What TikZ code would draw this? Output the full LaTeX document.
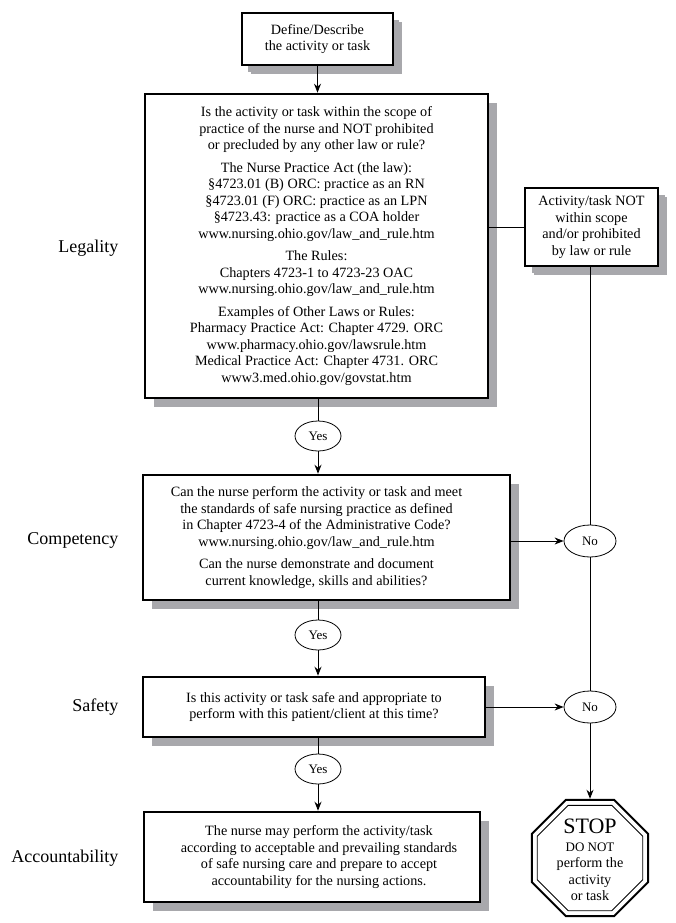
\documentclass[tikz,border=0pt]{standalone}
\usepackage{fontspec}
\setmainfont{Liberation Serif}
\usetikzlibrary{shapes.geometric,shadows,arrows.meta}
\definecolor{shadowgray}{RGB}{168,168,172}
\begin{document}
\begin{tikzpicture}[x=1pt,y=-1pt,
    box/.style={draw,line width=2.6pt,fill=white,align=center,inner sep=0pt,
      font=\fontsize{14.2}{16.5}\selectfont,
      drop shadow={shadow xshift=9pt,shadow yshift=-9pt,fill=shadowgray,opacity=1}},
    boxtext/.style={align=center,inner sep=0pt,font=\fontsize{14.2}{16.5}\selectfont},
    answer/.style={draw,ellipse,line width=0.8pt,inner sep=0pt,minimum width=46pt,
      minimum height=30pt,font=\fontsize{13}{15}\selectfont},
    side/.style={anchor=east,font=\fontsize{18}{20}\selectfont},
    arr/.style={line width=1pt,-{Stealth[length=9pt,width=7pt]}},
    ln/.style={line width=1pt}]
    \useasboundingbox (0,0) rectangle (676,923);

    % left column
    \node[side] (legality) at (122,248) {Legality};
    \node[side] (competency) at (122,540) {Competency};
    \node[side] (safety) at (122,707) {Safety};
    \node[side] (accountability) at (122,858) {Accountability};

    % main column
    \node[box,minimum width=151pt,minimum height=52pt,
      drop shadow={shadow xshift=6pt,shadow yshift=-7pt,fill=shadowgray,opacity=1}]
      (define) at (317.5,39) {Define/Describe\\the activity or task};
    \node[box,minimum width=343pt,minimum height=304pt] (legal) at (316.5,246)
      {Is the activity or task within the scope of\\
       practice of the nurse and NOT prohibited\\
       or precluded by any other law or rule?\\[6pt]
       The Nurse Practice Act (the law):\\
       §4723.01 (B) ORC: practice as an RN\\
       §4723.01 (F) ORC: practice as an LPN\\
       §4723.43: practice as a COA holder\\
       www.nursing.ohio.gov/law\_and\_rule.htm\\[6pt]
       The Rules:\\
       Chapters 4723-1 to 4723-23 OAC\\
       www.nursing.ohio.gov/law\_and\_rule.htm\\[6pt]
       Examples of Other Laws or Rules:\\
       Pharmacy Practice Act: Chapter 4729. ORC\\
       www.pharmacy.ohio.gov/lawsrule.htm\\
       Medical Practice Act: Chapter 4731. ORC\\
       www3.med.ohio.gov/govstat.htm};
    \node[answer] (yes1) at (318,436) {Yes};
    \node[box,minimum width=367pt,minimum height=125pt,
      label={[boxtext,xshift=-10pt]center:Can the nurse perform the activity or task and meet\\
       the standards of safe nursing practice as defined\\
       in Chapter 4723-4 of the Administrative Code?\\
       www.nursing.ohio.gov/law\_and\_rule.htm\\[6pt]
       Can the nurse demonstrate and document\\
       current knowledge, skills and abilities?}] (comp) at (326.5,537.5) {};
    \node[answer] (yes2) at (318,635) {Yes};
    \node[box,minimum width=342pt,minimum height=60pt] (safe) at (314,707)
      {Is this activity or task safe and appropriate to\\
       perform with this patient/client at this time?};
    \node[answer] (yes3) at (318,769) {Yes};
    \node[box,minimum width=336pt,minimum height=90pt,
      label={[boxtext,xshift=7pt]center:The nurse may perform the activity/task\\
       according to acceptable and prevailing standards\\
       of safe nursing care and prepare to accept\\
       accountability for the nursing actions.}] (acct) at (312,857) {};

    % right column
    \node[box,minimum width=133pt,minimum height=78pt,
      drop shadow={shadow xshift=7pt,shadow yshift=-7pt,fill=shadowgray,opacity=1}]
      (notin) at (591.5,227)
      {Activity/task NOT\\within scope\\and/or prohibited\\by law or rule};
    \node[answer,minimum width=52pt,minimum height=32pt] (no1) at (590,541) {No};
    \node[answer,minimum width=52pt,minimum height=32pt] (no2) at (590,707) {No};
    \node[draw,regular polygon,regular polygon sides=8,minimum size=126pt,
      line width=2pt,inner sep=0pt,fill=white] (stop) at (590,858) {};
    \node[draw,regular polygon,regular polygon sides=8,minimum size=114pt,
      line width=0.8pt,inner sep=0pt] (stopin) at (stop) {};
    \node[align=center,inner sep=0pt,font=\fontsize{14.2}{16.5}\selectfont] (stoptext) at (590,860)
      {{\fontsize{22}{22}\selectfont STOP}\\[1pt]{\fontsize{13}{15}\selectfont DO NOT}\\
       perform the\\activity\\or task};

    % connectors
    \draw[arr] (define.south) -- (define.south |- legal.north);
    \draw[ln] (legal.south -| yes1) -- (yes1);
    \draw[arr] (yes1) -- (yes1 |- comp.north);
    \draw[ln] (comp.south -| yes2) -- (yes2);
    \draw[arr] (yes2) -- (yes2 |- safe.north);
    \draw[ln] (safe.south -| yes3) -- (yes3);
    \draw[arr] (yes3) -- (yes3 |- acct.north);
    \draw[ln] (legal.east |- notin.west) -- (notin.west);
    \draw[ln] (notin.south -| no1) -- (no1);
    \draw[arr] (comp.east |- no1) -- (no1);
    \draw[ln] (no1) -- (no2);
    \draw[arr] (safe.east |- no2) -- (no2);
    \draw[arr] (no2) -- (stop);
\end{tikzpicture}
\end{document}
